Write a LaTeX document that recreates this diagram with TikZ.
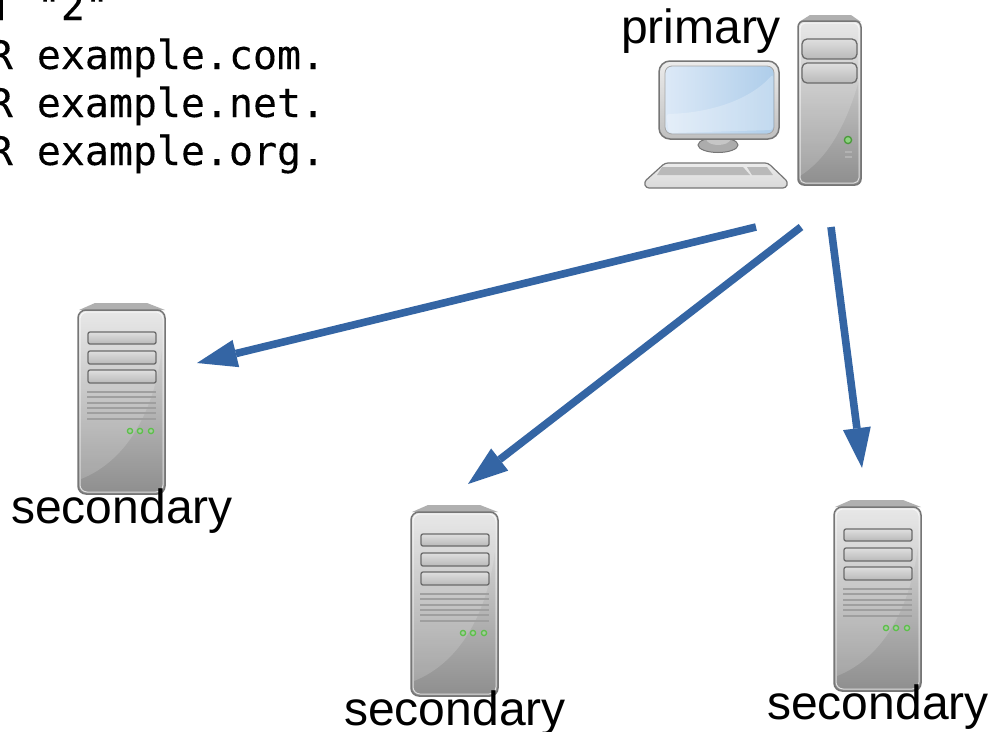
\documentclass[tikz,border=0pt]{standalone}
\usepackage{fontspec}
\setmainfont{Liberation Sans}
\newfontfamily\codefont[FakeBold=0.15]{DejaVu Sans Mono}
\usetikzlibrary{arrows.meta,shadings}
\definecolor{arrowblue}{HTML}{3465A4}
\definecolor{caseedge}{HTML}{767676}
\definecolor{ledgreen}{HTML}{5CC04A}
\definecolor{casetop}{HTML}{E4E4E4}
\definecolor{casemid}{HTML}{B4B4B4}
\definecolor{casebot}{HTML}{8E8E8E}
\definecolor{screenblue}{HTML}{AECDEA}
\definecolor{screenpale}{HTML}{DCE9F7}
\tikzset{
  x=1pt,y=-1pt,
  lbl/.style={inner sep=0pt,anchor=base,font=\fontsize{48}{48}\selectfont,text=black},
  codeline/.style={inner sep=0pt,anchor=base west,font=\codefont\fontsize{39.9}{39.9}\selectfont,text=black},
  flow/.style={draw=arrowblue,line width=7.6pt,-{Triangle[length=40pt,width=28pt,fill=arrowblue,line width=0pt]}},
  caseshape/.style={draw=caseedge,line width=1.5pt,top color=casetop,middle color=casemid,bottom color=casebot},
  caserim/.style={draw=white,line width=1pt,opacity=.7},
  baybox/.style={draw=black!58,line width=1.3pt,rounded corners=2pt,top color=gray!25,bottom color=gray!55},
  vent/.style={draw=gray!75,line width=1.1pt},
  led/.style={draw=ledgreen,line width=1.3pt,fill=gray!45!ledgreen!60},
  pics/tower/.style={code={
    \fill[gray!62] (1,7) -- (17,0) -- (69,0) -- (87,7) -- cycle;
    \draw[caseshape,rounded corners=8pt] (0,7) rectangle (87,191);
    \fill[white,opacity=.16] (3,176) .. controls (48,158) and (76,110) .. (84,46) -- (84,10) -- (3,10) -- cycle;
    \draw[caserim,rounded corners=7pt] (2,9) rectangle (85,189);
    \draw[baybox] (10,29) rectangle (78,41);
    \draw[baybox] (10,48) rectangle (78,61);
    \draw[baybox] (10,67) rectangle (78,80);
    \foreach \ventrow in {89,94,100,105,110,116} \draw[vent] (9,\ventrow) -- (78,\ventrow);
    \foreach \ledx in {52,62,73} \draw[led] (\ledx,128) circle (2.6);
  }}
}
\begin{document}
\begin{tikzpicture}
\useasboundingbox (0,0) rectangle (992,731);
\clip (0,0) rectangle (992,731);
\fill[white] (0,0) rectangle (992,731);
% code text
\node[codeline] (codeA) at (-11.4,20) {T "2"};
\node[codeline] (codeB) at (-11.4,69) {R example.com.};
\node[codeline] (codeC) at (-11.4,117) {R example.net.};
\node[codeline] (codeD) at (-11.4,165) {R example.org.};
% primary workstation
\node[lbl] (primary) at (701,43) {primary};
\fill[gray!62] (799,22) -- (810,15) -- (851,15) -- (861,22) -- cycle;
\draw[caseshape,rounded corners=6pt] (798,21) rectangle (861,185);
\fill[white,opacity=.16] (800,176) .. controls (825,160) and (845,130) .. (859,80) -- (859,24) -- (800,24) -- cycle;
\draw[caserim,rounded corners=5pt] (800,23) rectangle (859,183);
\draw[baybox,rounded corners=5pt] (802,39) rectangle (857,59);
\draw[baybox,rounded corners=5pt] (802,63) rectangle (857,83);
\fill[gray!60] (845,151) rectangle (852,153);
\fill[gray!60] (845,156) rectangle (852,158);
\draw[draw=ledgreen!80!black,line width=1.3pt,fill=ledgreen!70!white] (848,140) circle (3.6);
% monitor stand and monitor
\fill[gray!65,draw=caseedge,line width=1pt] (718,145) ellipse (20 and 7.5);
\fill[gray!45] (706,139) .. controls (708,147) and (728,147) .. (731,139) -- cycle;
\draw[draw=caseedge,line width=1.5pt,top color=gray!15,bottom color=gray!50,rounded corners=11pt] (659,61) rectangle (779,139);
\draw[draw=gray!70,line width=.8pt,left color=screenpale,right color=screenblue,rounded corners=7pt] (665,66) rectangle (774,134);
\fill[white,opacity=.25,rounded corners=3pt] (666,114) .. controls (710,113) and (750,100) .. (773,74) -- (773,130) -- (669,133) -- cycle;
% keyboard
\draw[draw=caseedge,line width=1.2pt,top color=gray!15,bottom color=gray!30,rounded corners=3pt] (644,182) -- (665,163) -- (768,163) -- (788,182) -- (786,188) -- (646,188) -- cycle;
\fill[gray!55] (662,167) -- (743,167) -- (750,175) -- (657,175) -- cycle;
\fill[gray!55] (747,167) -- (767,167) -- (773,175) -- (752,175) -- cycle;
% servers
\pic (serverA) at (78,303) {tower};
\pic (serverB) at (411,505) {tower};
\pic (serverC) at (834,500) {tower};
\node[lbl] (labelA) at (122,523) {secondary};
\node[lbl] (labelB) at (455,725) {secondary};
\node[lbl] (labelC) at (878,719) {secondary};
% arrows
\coordinate (startA) at (756,227);
\coordinate (startB) at (801,227);
\coordinate (startC) at (831,227);
\coordinate (endA) at (197,363);
\coordinate (endB) at (468,484);
\coordinate (endC) at (862,468);
\draw[flow] (startA) -- (endA);
\draw[flow] (startB) -- (endB);
\draw[flow] (startC) -- (endC);
\end{tikzpicture}
\end{document}
